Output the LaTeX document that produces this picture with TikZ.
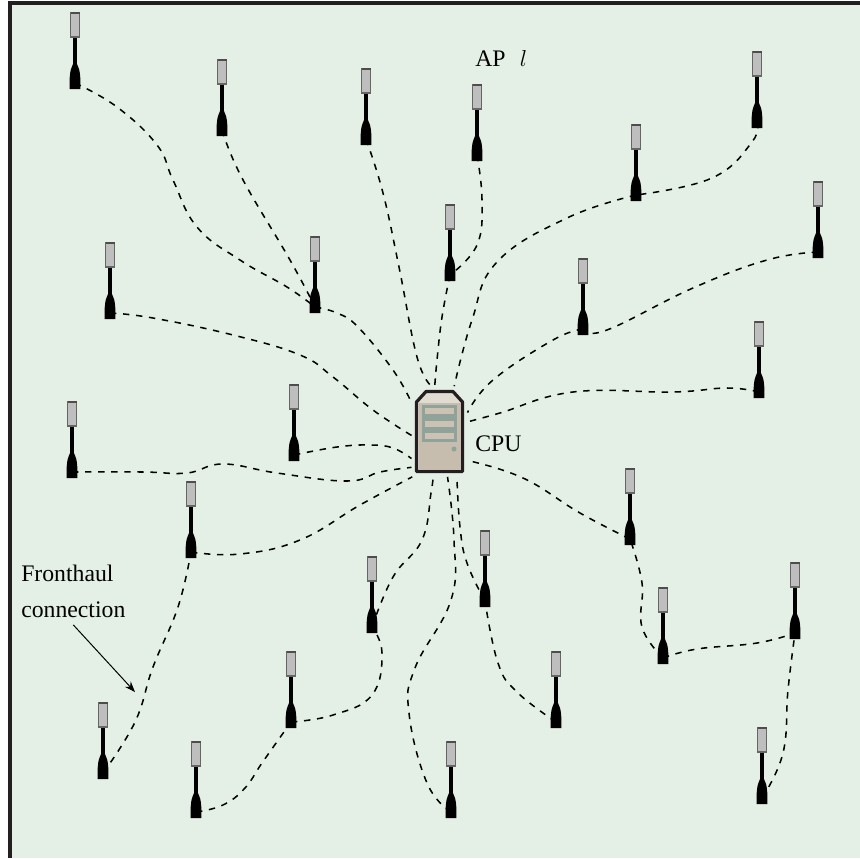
\documentclass[tikz,border=0pt]{standalone}
\usepackage{fontspec}
\setmainfont{Liberation Serif}
\usetikzlibrary{arrows.meta,positioning}
\definecolor{fieldgreen}{RGB}{228,240,230}
\definecolor{framedark}{RGB}{35,31,32}
\definecolor{antgray}{RGB}{190,190,190}
\definecolor{cputop}{RGB}{224,220,210}
\definecolor{cputan}{RGB}{199,189,175}
\definecolor{baygreen}{RGB}{143,163,154}
\tikzset{
  hub/.style={inner sep=0pt,minimum width=8pt,minimum height=15pt},
  link/.style={black,line width=1.15pt,dash pattern=on 4.8pt off 5pt},
  lbl/.style={inner sep=0pt,font=\fontsize{17.8}{27}\selectfont},
  cpubox/.style={rectangle,minimum width=36pt,minimum height=62pt,inner sep=0pt,outer sep=3pt},
  smoothlink/.style={smooth,tension=.72},
  antenna/.pic={
    \fill[black] (-5.3,6) -- (-5.3,-5) .. controls (-4.6,-13) .. (-1.5,-20) -- (1.5,-20) .. controls (4.6,-13) .. (5.3,-5) -- (5.3,6) -- cycle;
    \draw[black,line width=2.4pt] (0,-18) -- (0,-46);
    \draw[fill=antgray,draw=gray!80!black,line width=.8pt] (-4.5,-70) rectangle (4.5,-46);
    \draw[framedark!80,line width=1pt] (-4.5,-70) -- (4.5,-70);
  }
}
\begin{document}
\begin{tikzpicture}[x=.75pt,y=-.75pt]
  \useasboundingbox (0,0) rectangle (860,858);
  \fill[fieldgreen] (10,3) rectangle (860,858);
  \draw[framedark,line width=3pt] (10,858) -- (10,3) -- (860,3);

  % access points: number / x / y of the foot
  \foreach \i/\x/\y in {1/75/89,2/222/136,3/366/145,4/477/161,5/636/201,6/757/128,
      7/818/258,8/450/281,9/315/313,10/110/319,11/583/335,12/759/398,13/294/461,
      14/72/478,15/191/558,16/630/545,17/485/607,18/372/633,19/663/664,20/795/639,
      21/103/779,22/291/728,23/556/728,24/196/818,25/451/818,26/762/804}
    \node[hub] (ap\i) at (\x,\y-6) {};

  % server
  \node[cpubox] (cpu) at (439.5,431.5) {};
  \filldraw[draw=framedark,fill=cputop,line width=2.4pt,line join=round]
    (416.5,471.5) -- (416.5,402) -- (426,391.5) -- (453,391.5) -- (462.5,402) -- (462.5,471.5) -- cycle;
  \fill[cputan] (418.5,403) rectangle (460.5,470);
  \fill[baygreen] (422,405) rectangle (457,442);
  \foreach \y in {408,421,433}
    \fill[cputan!85!cputop] (425,\y) rectangle (454,\y+6);
  \fill[baygreen] (454,449) circle (2.5);

  % fronthaul links
  \draw[link] plot[smoothlink] coordinates {(ap1) (117,107) (157,145) (173,180) (197,227) (240,260) (287,287) (ap9)};
  \draw[link] plot[smoothlink] coordinates {(ap2) (242,178) (290,260) (ap9)};
  \draw[link] plot[smoothlink] coordinates {(ap9) (337,313) (358,327) (393,370) (cpu.134)};
  \draw[link] plot[smoothlink] coordinates {(ap10) (153,318) (233,335) (300,355) (333,377) (373,410) (cpu.188)};
  \draw[link] plot[smoothlink] coordinates {(ap13) (337,447) (370,445) (393,448) (cpu.224)};
  \draw[link] plot[smoothlink] coordinates {(ap14) (143,472) (187,473) (223,464) (277,473) (347,481) (380,472) (cpu.232)};
  \draw[link] plot[smoothlink] coordinates {(ap15) (240,554) (300,540) (360,505) (cpu.239)};
  \draw[link] plot[smoothlink] coordinates {(ap21) (135,722) (153,667) (178,607) (ap15)};
  \draw[link] plot[smoothlink] coordinates {(ap24) (223,805) (245,788) (262,763) (ap22)};
  \draw[link] plot[smoothlink] coordinates {(ap22) (333,715) (372,695) (382,653) (ap18)};
  \draw[link] plot[smoothlink] coordinates {(ap18) (393,577) (422,540) (431,493) (cpu.262)};
  \draw[link] plot[smoothlink] coordinates {(ap25) (427,783) (409,713) (415,668) (451,600) (454,540) (cpu.280)};
  \draw[link] plot[smoothlink] coordinates {(ap17) (467,563) (460,527) (cpu.291)};
  \draw[link] plot[smoothlink] coordinates {(ap23) (517,692) (498,663) (ap17)};
  \draw[link] plot[smoothlink] coordinates {(ap16) (580,513) (523,478) (cpu.314)};
  \draw[link] plot[smoothlink] coordinates {(ap19) (642,627) (642,583) (ap16)};
  \draw[link] plot[smoothlink] coordinates {(ap19) (697,649) (757,643) (ap20)};
  \draw[link] plot[smoothlink] coordinates {(ap26) (783,753) (788,690) (ap20)};
  \draw[link] plot[smoothlink] coordinates {(ap3) (383,193) (399,267) (417,357) (cpu.100)};
  \draw[link] plot[smoothlink] coordinates {(ap8) (442,317) (437,360) (cpu.96)};
  \draw[link] plot[smoothlink] coordinates {(ap4) (482,200) (477,245) (ap8)};
  \draw[link] plot[smoothlink] coordinates {(ap5) (567,218) (497,262) (472,320) (cpu.72)};
  \draw[link] plot[smoothlink] coordinates {(ap6) (752,142) (712,178) (ap5)};
  \draw[link] plot[smoothlink] coordinates {(ap7) (767,260) (693,288) (607,330) (ap11)};
  \draw[link] plot[smoothlink] coordinates {(ap11) (553,340) (493,380) (cpu.34)};
  \draw[link] plot[smoothlink] coordinates {(ap12) (727,388) (673,392) (573,392) (500,413) (cpu.19)};

  % antennas go over the link ends
  \foreach \i in {1,...,26}
    \pic at (ap\i) {antenna};

  % labels
  \node[lbl,anchor=west] (aplabel) at (475,58) {AP\hspace{.6em}$l$};
  \node[lbl,anchor=west] (cpulabel) at (475,444) {CPU};
  \node[lbl,align=left,anchor=north west] (fhlabel) at (21,565) {Fronthaul\\connection};
  \coordinate (fhtip) at (135,692);
  \draw[-{Stealth[length=8pt,width=6pt]},line width=.75pt] ([yshift=-5pt]fhlabel.south) -- (fhtip);
\end{tikzpicture}
\end{document}
